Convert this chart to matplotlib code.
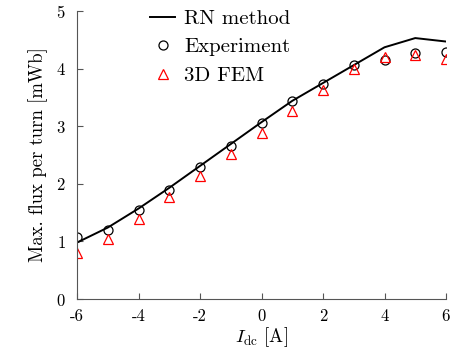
import numpy as np
import matplotlib
matplotlib.use("Agg")
import matplotlib.pyplot as plt

plt.rcParams['font.family'] = 'cmr10'
plt.rcParams['mathtext.fontset'] = 'cm'
plt.rcParams['axes.unicode_minus'] = False
plt.rcParams['axes.formatter.use_mathtext'] = True

# data
i_dc = [-6, -5, -4, -3, -2, -1, 0, 1, 2, 3, 4, 5, 6]
rn_method = [0.98, 1.24, 1.57, 1.93, 2.31, 2.69, 3.07, 3.44, 3.75, 4.06, 4.37, 4.53, 4.47]
experiment = [1.08, 1.19, 1.54, 1.90, 2.30, 2.66, 3.05, 3.43, 3.73, 4.07, 4.15, 4.27, 4.28]
fem_3d = [0.80, 1.04, 1.39, 1.77, 2.13, 2.51, 2.89, 3.26, 3.62, 3.99, 4.20, 4.24, 4.16]

fig = plt.figure(figsize=(4.58, 3.56), dpi=100)
ax = fig.add_axes([77/458, 57/356, 369/458, 288/356])

ax.plot(i_dc, rn_method, color='black', lw=1.4, label='RN method')
ax.plot(i_dc, experiment, ls='none', marker='o', mfc='none', mec='black',
        ms=6.5, mew=0.9, label='Experiment')
ax.plot(i_dc, fem_3d, ls='none', marker='^', mfc='none', mec='red',
        ms=6.5, mew=0.9, label='3D FEM')

ax.set_xlim(-6, 6)
ax.set_ylim(0, 5)
ax.set_xticks(np.arange(-6, 7, 2))
ax.set_xticklabels(['-6', '-4', '-2', '0', '2', '4', '6'])
ax.set_yticks(np.arange(0, 6, 1))
ax.tick_params(direction='in', labelsize=12, length=4, color='#555555')
ax.tick_params(axis='x', pad=7)
ax.tick_params(axis='y', pad=8)
for s in ['top', 'right']:
    ax.spines[s].set_visible(False)
for s in ['left', 'bottom']:
    ax.spines[s].set_color('#555555')

ax.set_xlabel(r'$I_{\rm dc}$ [A]', fontsize=13.5, labelpad=1)
ax.set_ylabel('Max. flux per turn [mWb]', fontsize=13.5, labelpad=6)

ax.legend(loc='upper left', bbox_to_anchor=(0.198, 1.006), frameon=False,
          fontsize=15, handlelength=1.2, handletextpad=0.45,
          labelspacing=0.48, borderpad=0, borderaxespad=0)

fig.savefig('out.png', dpi=100)
